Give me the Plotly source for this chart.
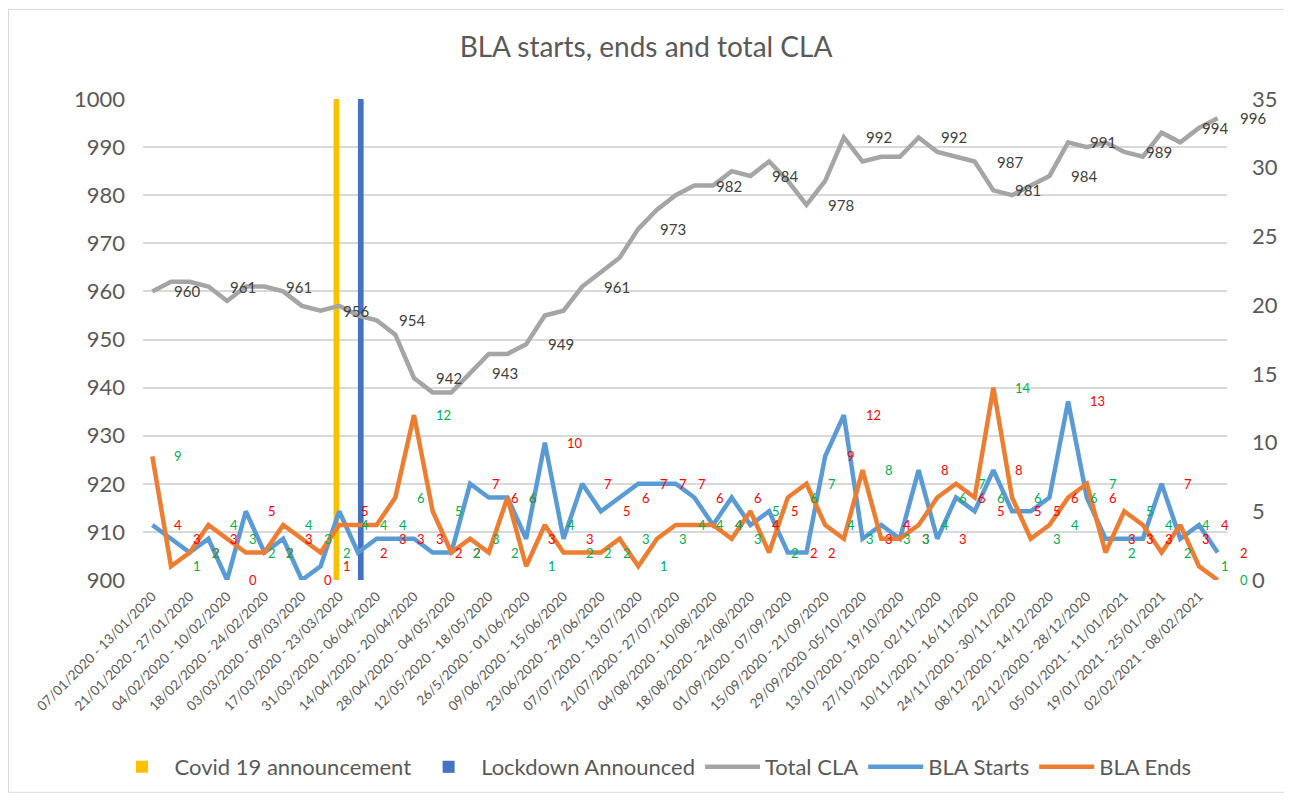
import plotly.graph_objects as go

# Weekly data, 07/01/2020 - 13/01/2020 ... 09/02/2021 - 15/02/2021 (58 weeks)
week_labels = [
    "07/01/2020 - 13/01/2020", "21/01/2020 - 27/01/2020", "04/02/2020 - 10/02/2020",
    "18/02/2020 - 24/02/2020", "03/03/2020 - 09/03/2020", "17/03/2020 - 23/03/2020",
    "31/03/2020 - 06/04/2020", "14/04/2020 - 20/04/2020", "28/04/2020 - 04/05/2020",
    "12/05/2020 - 18/05/2020", "26/5/2020 - 01/06/2020", "09/06/2020 - 15/06/2020",
    "23/06/2020 - 29/06/2020", "07/07/2020 - 13/07/2020", "21/07/2020 - 27/07/2020",
    "04/08/2020 - 10/08/2020", "18/08/2020 - 24/08/2020", "01/09/2020 - 07/09/2020",
    "15/09/2020 - 21/09/2020", "29/09/2020 -05/10/2020", "13/10/2020 - 19/10/2020",
    "27/10/2020 - 02/11/2020", "10/11/2020 - 16/11/2020", "24/11/2020 - 30/11/2020",
    "08/12/2020 - 14/12/2020", "22/12/2020 - 28/12/2020", "05/01/2021 - 11/01/2021",
    "19/01/2021 - 25/01/2021", "02/02/2021 - 08/02/2021",
]
label_weeks = list(range(0, 57, 2))  # every other week gets a tick label

total_cla = [
    960, 962, 962, 961, 958, 961, 961, 960, 957, 956,
    957, 955, 954, 951, 942, 939, 939, 943, 947, 947,
    949, 955, 956, 961, 964, 967, 973, 977, 980, 982,
    982, 985, 984, 987, 983, 978, 983, 992, 987, 988,
    988, 992, 989, 988, 987, 981, 980, 982, 984, 991,
    990, 991, 989, 988, 993, 991, 994, 996,
]
bla_starts = [
    4, 3, 2, 3, 0, 5, 2, 3, 0, 1,
    5, 2, 3, 3, 3, 2, 2, 7, 6, 6,
    3, 10, 3, 7, 5, 6, 7, 7, 7, 6,
    4, 6, 4, 5, 2, 2, 9, 12, 3, 4,
    3, 8, 3, 6, 5, 8, 5, 5, 6, 13,
    6, 3, 3, 3, 7, 3, 4, 2,
]
bla_ends = [
    9, 1, 2, 4, 3, 2, 2, 4, 3, 2,
    4, 4, 4, 6, 12, 5, 2, 3, 2, 6,
    1, 4, 2, 2, 2, 3, 1, 3, 4, 4,
    4, 3, 5, 2, 6, 7, 4, 3, 8, 3,
    3, 4, 6, 7, 6, 14, 6, 3, 4, 6,
    7, 2, 5, 4, 2, 4, 1, 0,
]
weeks = list(range(len(total_cla)))

# Data labels shown on the Total CLA line (only some weeks are labelled)
cla_label_weeks = [0, 3, 6, 9, 12, 14, 17, 20, 23, 26, 29, 32, 35, 37, 41, 44, 45, 48, 49, 52, 55, 57]
cla_label_values = [960, 961, 961, 956, 954, 942, 943, 949, 961, 973, 982,
                    984, 978, 992, 992, 987, 981, 984, 991, 989, 994, 996]

covid_week = 10
lockdown_week = 11
axis_top = 1000

FONT = "Lato, 'Open Sans', sans-serif"
TXT = "#595959"
LABEL_SHIFT = 20  # px: data labels sit to the right of their point
BAR_W = 0.305     # two-series cluster, Excel style

fig = go.Figure()
# clustered bars: first series left of the category centre, second right of it
fig.add_bar(x=[covid_week], y=[axis_top], name="Covid 19 announcement",
            width=BAR_W, offset=-BAR_W, marker_color="#FFC000", marker_line_width=0)
fig.add_bar(x=[lockdown_week], y=[axis_top], name="Lockdown Announced",
            width=BAR_W, offset=0, marker_color="#4472C4", marker_line_width=0)
fig.add_scatter(x=weeks, y=total_cla, name="Total CLA", mode="lines",
                line=dict(color="#A5A5A5", width=4.5))
fig.add_scatter(x=weeks, y=bla_starts, name="BLA Starts", mode="lines", yaxis="y2",
                line=dict(color="#5B9BD5", width=4.5))
fig.add_scatter(x=weeks, y=bla_ends, name="BLA Ends", mode="lines", yaxis="y2",
                line=dict(color="#ED7D31", width=4.5))


def add_labels(xs, ys, yref, size, color):
    for x, y in zip(xs, ys):
        fig.add_annotation(x=x, y=y, xref="x", yref=yref, text=str(y),
                           showarrow=False, xanchor="left", yanchor="middle",
                           xshift=LABEL_SHIFT,
                           font=dict(family=FONT, size=size, color=color))


add_labels(cla_label_weeks, cla_label_values, "y", 15, "#404040")
add_labels(weeks, bla_starts, "y2", 13, "#FF0000")
add_labels(weeks, bla_ends, "y2", 13, "#00B050")

W, H = 1284, 792  # page body keeps an 8px margin
fig.update_layout(
    width=W, height=H,
    margin=dict(l=135, r=65, t=91, b=215),
    paper_bgcolor="white", plot_bgcolor="white",
    font=dict(family=FONT, color=TXT),
    title=dict(text="BLA starts, ends and total CLA", x=638 / W, xref="container",
               xanchor="center", y=1 - 39 / H, yanchor="middle",
               font=dict(size=28, color=TXT)),
    xaxis=dict(range=[-0.5, 57.5], tickmode="array", tickvals=label_weeks,
               ticktext=week_labels, tickangle=-45, showgrid=False, zeroline=False,
               tickfont=dict(size=13.5, color=TXT), ticklabelstandoff=5,
               automargin=False),
    yaxis=dict(range=[900, 1000], dtick=10, showgrid=True, gridcolor="#D9D9D9",
               gridwidth=1.5, zeroline=False, tickfont=dict(size=22, color=TXT),
               ticklabelstandoff=17, automargin=False),
    yaxis2=dict(range=[0, 35], dtick=5, overlaying="y", side="right", showgrid=False,
                zeroline=False, tickfont=dict(size=22, color=TXT),
                ticklabelstandoff=24, automargin=False),
    legend=dict(orientation="h", x=510 / 1084, xanchor="center", y=-189 / 486,
                yanchor="middle", font=dict(size=22, color=TXT), itemwidth=55,
                traceorder="normal"),
    shapes=[dict(type="rect", xref="paper", yref="paper",
                 x0=-134.5 / 1084, x1=1148.5 / 1084, y0=-214.5 / 486, y1=576.5 / 486,
                 line=dict(color="#D9D9D9", width=1), layer="below")],
)

fig.write_html("out.html")
